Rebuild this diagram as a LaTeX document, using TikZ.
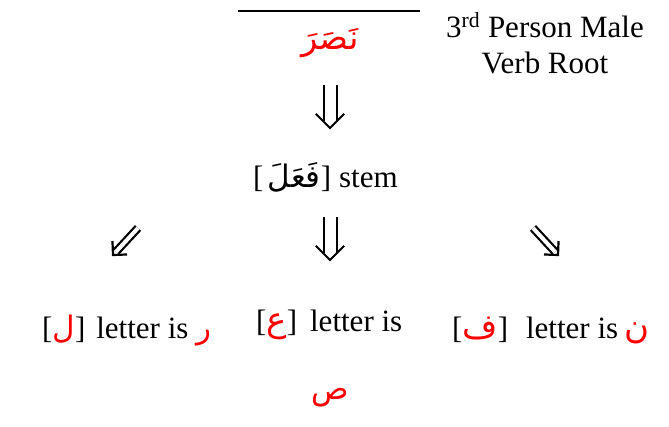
\documentclass[tikz,border=0pt]{standalone}
\usepackage{fontspec}
\setmainfont{Liberation Serif}
\newfontfamily\arabicfont[Script=Arabic]{DejaVu Sans}
\usetikzlibrary{calc}
\TeXXeTstate=1
\definecolor{arred}{RGB}{255,0,0}
\newcommand{\ar}[1]{{\arabicfont\beginR #1\endR}}
\newcommand{\rar}[2][31]{{\color{arred}\fontsize{#1}{36}\arabicfont\beginR #2\endR}}
% double arrow: shaft from #2 to #3, #1 = big or small
\newcommand{\dblarrow}[3]{%
	\draw[#1shaft] (#2) -- (#3);
	\draw[#1head] ($(#3)!\arm!45:(#2)$) -- (#3) -- ($(#3)!\arm!-45:(#2)$);
}
\begin{document}
	\begin{tikzpicture}[x=1pt, y=-1pt, every node/.style={inner sep=0pt},
		font=\fontsize{31}{36}\selectfont,
		bigshaft/.style={double, double distance=11pt, line width=2pt, shorten >=7pt},
		bighead/.style={line width=2pt, line join=miter},
		smallshaft/.style={double, double distance=4pt, line width=2.2pt, shorten >=4.5pt},
		smallhead/.style={line width=2.2pt, line join=miter}]
		\useasboundingbox (0,0) rectangle (669,426);
		\draw[line width=2pt] (238,11) -- (420,11);
		\node (root) at (330,43) {\rar[34]{نَصَرَ}};
		\node[align=center, anchor=base] (caption) at (545,73) {3\textsuperscript{rd} Person Male\\Verb Root};
		\node[anchor=base west] (stem) at (253,187) {[\hspace{4pt}\ar{فَعَلَ}]\hspace{8pt}stem};
		\node[anchor=base west] (lam) at (42,338) {[\rar{ل}]\hspace{11pt}letter is\hspace{8pt}\rar{ر}};
		\node[anchor=base west] (ain) at (256,331) {[\rar[34]{ع}]\hspace{13pt}letter is};
		\node (sad) at (330,398) {\rar{ص}};
		\node[anchor=base west] (fa) at (452,338) {[\rar[34]{ف}]\hspace{18pt}letter is\hspace{6pt}\rar[34]{ن}};
		% arrows
		\coordinate (t1) at (330,85);
		\coordinate (t2) at (330,128);
		\coordinate (m1) at (330,217);
		\coordinate (m2) at (330,260);
		\coordinate (l1) at (138,228);
		\coordinate (l2) at (113,255);
		\coordinate (r1) at (533,228);
		\coordinate (r2) at (558,255);
		\def\arm{20pt}
		\dblarrow{big}{t1}{t2}
		\dblarrow{big}{m1}{m2}
		\def\arm{14pt}
		\dblarrow{small}{l1}{l2}
		\dblarrow{small}{r1}{r2}
	\end{tikzpicture}
\end{document}
